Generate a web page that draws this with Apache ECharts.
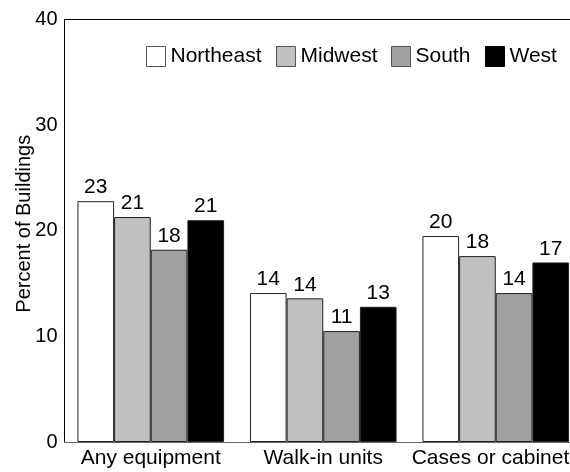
<!DOCTYPE html>
<html>
<head>
<meta charset="utf-8">
<script src="https://cdn.jsdelivr.net/npm/echarts@6/dist/echarts.min.js"></script>
<style>
html,body{margin:0;padding:0;background:#fff;}
#chart{width:570px;height:472px;}
</style>
</head>
<body>
<div id="chart"></div>
<script>
const categories = ['Any equipment', 'Walk-in units', 'Cases or cabinets'];
const regions = ['Northeast', 'Midwest', 'South', 'West'];
const northeast = [22.8, 14.1, 19.5];
const midwest = [21.3, 13.6, 17.6];
const south = [18.2, 10.5, 14.1];
const west = [21.0, 12.8, 17.0];
const yTicks = [0, 10, 20, 30, 40];

const seriesValues = [northeast, midwest, south, west];
const fills = ['#ffffff', '#c0c0c0', '#a0a0a0', '#000000'];
const legendLefts = [146, 276, 391, 485];
const FONT = 'Liberation Sans, Arial, Helvetica, sans-serif';

const chart = echarts.init(document.getElementById('chart'), null, {renderer: 'canvas'});
const option = {
  backgroundColor: '#ffffff',
  animation: false,
  textStyle: {fontFamily: FONT, color: '#000'},
  grid: {left: 64.5, right: -12, top: 19.5, bottom: 30, containLabel: false, outerBoundsMode: 'none'},
  legend: regions.map((r, i) => ({
    data: [r],
    left: legendLefts[i],
    top: 46,
    padding: 0,
    itemWidth: 19,
    itemHeight: 20,
    icon: 'rect',
    selectedMode: false,
    itemStyle: {borderColor: i === 3 ? '#000' : '#555', borderWidth: 1},
    textStyle: {fontFamily: FONT, fontSize: 21, color: '#000'}
  })),
  xAxis: [{
    type: 'category',
    data: categories,
    position: 'bottom',
    axisLine: {show: true, lineStyle: {color: '#666', width: 1}},
    axisTick: {show: false},
    axisLabel: {interval: 0, fontSize: 21, color: '#000', margin: 6, fontFamily: FONT}
  }, {
    type: 'category',
    data: categories,
    position: 'top',
    axisLine: {show: true, lineStyle: {color: '#000', width: 1}},
    axisTick: {show: false},
    axisLabel: {show: false}
  }],
  yAxis: {
    type: 'value',
    min: yTicks[0],
    max: yTicks[yTicks.length - 1],
    interval: 10,
    name: 'Percent of Buildings',
    nameLocation: 'middle',
    nameGap: 30,
    nameMoveOverlap: false,
    nameTextStyle: {fontSize: 20, color: '#000', fontFamily: FONT, padding: [0, 0, 0, 14]},
    axisLine: {show: true, lineStyle: {color: '#000', width: 1}},
    axisTick: {show: false},
    splitLine: {show: false},
    axisLabel: {fontSize: 20, color: '#000', margin: 7, fontFamily: FONT}
  },
  series: regions.map((r, i) => ({
    name: r,
    type: 'bar',
    data: seriesValues[i],
    barGap: '0%',
    barCategoryGap: '15%',
    itemStyle: {color: fills[i], borderColor: '#222', borderWidth: 1},
    label: {
      show: true,
      position: 'top',
      distance: 3,
      fontSize: 21,
      color: '#000',
      fontFamily: FONT,
      formatter: p => String(Math.round(p.value))
    }
  }))
};
chart.setOption(option);
</script>
</body>
</html>
